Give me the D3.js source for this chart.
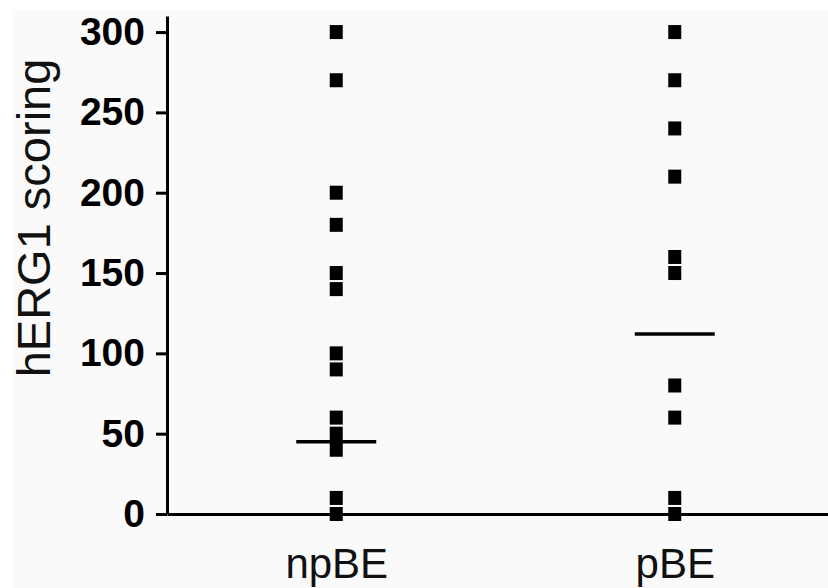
<!DOCTYPE html>
<html>
<head>
<meta charset="utf-8">
<script src="https://cdn.jsdelivr.net/npm/d3@7"></script>
<style>
  html, body { margin: 0; padding: 0; background: #fff; }
  svg { display: block; }
</style>
</head>
<body>
<div id="chart"></div>
<script>
// values
const categories = ["npBE", "pBE"];
const npBE = [300, 270, 200, 180, 150, 140, 100, 90, 60, 50, 40, 10, 0];
const pBE = [300, 270, 240, 210, 160, 150, 80, 60, 10, 0];
const medians = [45, 112];
const yTicks = [0, 50, 100, 150, 200, 250, 300];

const W = 828, H = 588;
const svg = d3.select("#chart").append("svg")
    .attr("width", W)
    .attr("height", H);

// light grey page of the scanned figure
svg.append("rect")
    .attr("x", 12).attr("y", 10)
    .attr("width", W - 12).attr("height", H - 10)
    .attr("fill", "#fafafa");

const x = d3.scalePoint().domain(categories).range([167, 844]).padding(0.5);
const y = d3.scaleLinear().domain([0, 310]).range([514, 16]);

const series = [npBE, pBE];

// points
categories.forEach((c, i) => {
    svg.append("g")
        .selectAll("rect")
        .data(series[i])
        .enter()
        .append("rect")
        .attr("x", x(c) - 6.5)
        .attr("y", d => y(d) - 7)
        .attr("width", 13)
        .attr("height", 14)
        .attr("fill", "#000");
});

// median lines
svg.append("g")
    .selectAll("line")
    .data(medians)
    .enter()
    .append("line")
    .attr("x1", (d, i) => x(categories[i]) - 40)
    .attr("x2", (d, i) => x(categories[i]) + 40)
    .attr("y1", d => y(d))
    .attr("y2", d => y(d))
    .attr("stroke", "#000")
    .attr("stroke-width", 3.5);

// y axis
const yAxis = svg.append("g")
    .attr("transform", "translate(167,0)")
    .call(d3.axisLeft(y).tickValues(yTicks).tickSize(11).tickPadding(11).tickSizeOuter(0));
yAxis.select(".domain").attr("stroke-width", 3);
yAxis.selectAll(".tick line").attr("stroke-width", 3);
yAxis.selectAll(".tick text")
    .attr("font-family", "'Liberation Sans', Arial, sans-serif")
    .attr("font-weight", "bold")
    .attr("font-size", 39)
    .attr("fill", "#000");

// x axis
const xAxis = svg.append("g")
    .attr("transform", "translate(0,514)")
    .call(d3.axisBottom(x).tickSize(0).tickPadding(34));
xAxis.select(".domain").attr("stroke-width", 3);
xAxis.selectAll(".tick text")
    .attr("font-family", "'Liberation Sans', Arial, sans-serif")
    .attr("font-size", 42)
    .attr("fill", "#111");

// y title
svg.append("text")
    .attr("transform", "translate(50,218) rotate(-90)")
    .attr("text-anchor", "middle")
    .attr("font-family", "'Liberation Sans', Arial, sans-serif")
    .attr("font-size", 47)
    .attr("fill", "#111")
    .text("hERG1 scoring");
</script>
</body>
</html>
